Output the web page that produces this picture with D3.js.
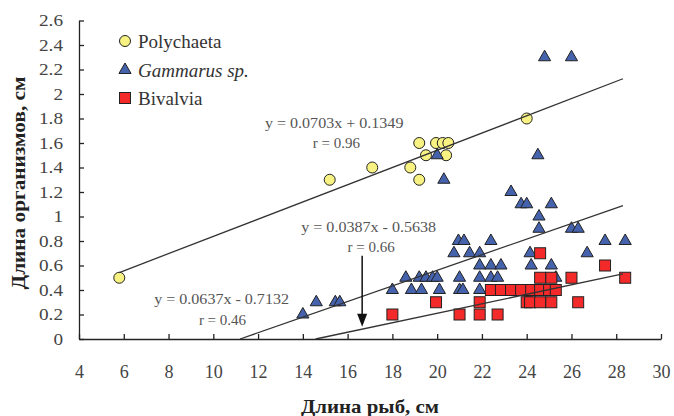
<!DOCTYPE html>
<html><head><meta charset="utf-8">
<script src="https://cdn.jsdelivr.net/npm/d3@7"></script>
<style>body{margin:0;background:#fff}svg{display:block}
svg text{font-family:"Liberation Serif","Times New Roman",Times,serif;}</style>
</head><body>
<svg id="c" width="674" height="416"></svg>
<script>
// ---- data ----
const xTicks = [4,6,8,10,12,14,16,18,20,22,24,26,28,30];
const yTicks = [0,0.2,0.4,0.6,0.8,1,1.2,1.4,1.6,1.8,2,2.2,2.4,2.6];
const seriesNames = ["Polychaeta","Gammarus sp.","Bivalvia"];

const polyX = [5.8,15.2,17.1,18.8,19.2,19.2,19.5,19.95,20.25,20.4,20.5,24.0];
const polyY = [0.5,1.3,1.4,1.4,1.3,1.6,1.5,1.6,1.6,1.5,1.6,1.8];

const gamX = [14.0,14.6,15.45,15.65,
  18.0,18.85,19.3,20.1,21.0,21.15,21.9,
  18.6,19.2,19.5,19.8,20.0,21.0,21.9,22.4,22.7,25.3,
  21.9,22.4,22.85,24.2,25.1,
  20.75,21.45,21.9,24.15,26.7,
  20.95,21.2,22.4,27.5,28.4,
  24.55,26.0,26.3,
  24.55,
  23.75,24.0,25.1,
  23.3,
  20.3,
  20.0,24.5,
  24.8,26.0];
const gamY = [0.2,0.3,0.3,0.3,
  0.4,0.4,0.4,0.4,0.4,0.4,0.4,
  0.5,0.5,0.5,0.5,0.5,0.5,0.5,0.5,0.5,0.5,
  0.6,0.6,0.6,0.6,0.6,
  0.7,0.7,0.7,0.7,0.7,
  0.8,0.8,0.8,0.8,0.8,
  0.9,0.9,0.9,
  1.0,
  1.1,1.1,1.1,
  1.2,
  1.3,
  1.5,1.5,
  2.3,2.3];

const bivX = [18.0,21.0,21.9,22.7,
  19.95,21.9,24.0,24.15,24.6,25.1,26.3,
  22.4,22.85,23.3,23.75,24.2,24.6,25.0,25.3,
  24.6,25.1,26.0,28.4,
  27.5,
  24.6];
const bivY = [0.2,0.2,0.2,0.2,
  0.3,0.3,0.3,0.3,0.3,0.3,0.3,
  0.4,0.4,0.4,0.4,0.4,0.4,0.4,0.4,
  0.5,0.5,0.5,0.5,
  0.6,
  0.7];

// regression fits (equation, r, line extent, label anchors in data units)
const fitSlope = [0.0703,0.0637,0.0387];
const fitIntercept = [0.1349,-0.7132,-0.5638];
const fitXmin = [5.8,4,4];
const fitXmax = [28.3,28.3,28.3];
const fitEq = ["y = 0.0703x + 0.1349","y = 0.0637x - 0.7132","y = 0.0387x - 0.5638"];
const fitR = ["r = 0.96","r = 0.46","r = 0.66"];
const eqLabelX = [15.4,10.37,16.94];
const eqLabelY = [1.72,0.285,0.87];
const rLabelX = [15.5,10.41,17.05];
const rLabelY = [1.56,0.115,0.71];

const arrowX = 16.65, arrowFrom = 0.68, arrowTo = 0.1;

// ---- drawing ----
const svg = d3.select("#c");
const x = d3.scaleLinear().domain([4,30]).range([79,661]);
const y = d3.scaleLinear().domain([0,2.6]).range([339,20.5]);

function widen(sel, f){ sel.each(function(){ const w=this.getComputedTextLength();
  d3.select(this).attr("textLength",w*f).attr("lengthAdjust","spacingAndGlyphs"); }); }

const gx = svg.append("g").attr("transform","translate(0,339)")
  .call(d3.axisBottom(x).tickValues(xTicks).tickFormat(d3.format("d"))
    .tickSizeInner(-5).tickSizeOuter(0).tickPadding(26));
const gy = svg.append("g").attr("transform","translate(79,0)")
  .call(d3.axisLeft(y).tickValues(yTicks).tickFormat(d=>String(+d.toFixed(1)))
    .tickSizeInner(-5).tickSizeOuter(0).tickPadding(16));
[gx,gy].forEach(g=>{
  g.attr("font-family",null);
  g.selectAll("path.domain").attr("stroke","#222").attr("stroke-width",1.3);
  g.selectAll(".tick line").attr("stroke","#222").attr("stroke-width",1.3);
  g.selectAll("text").attr("fill","#444");
});
gx.selectAll("text").attr("font-size",18);
gy.selectAll("text").attr("font-size",16).call(widen,1.2);

// axis titles
svg.append("text").attr("x",370).attr("y",413).attr("text-anchor","middle")
  .attr("font-weight","bold").attr("font-size",19).attr("fill","#222")
  .attr("textLength",138).attr("lengthAdjust","spacingAndGlyphs")
  .text("Длина рыб, см");
svg.append("text").attr("transform","translate(25,183) rotate(-90)").attr("text-anchor","middle")
  .attr("font-weight","bold").attr("font-size",18).attr("fill","#222")
  .attr("textLength",213).attr("lengthAdjust","spacingAndGlyphs")
  .text("Длина организмов, см");

const stroke = "#222";
const polyFill = "#f8f283", gamFill = "#4562ad", bivFill = "#f42a2a";
const tri = d3.symbol(d3.symbolTriangle).size(64);
const SQ = 11;

// points
svg.append("g").selectAll("circle").data(d3.range(polyX.length)).join("circle")
  .attr("cx",i=>x(polyX[i])).attr("cy",i=>y(polyY[i])).attr("r",5.5)
  .attr("fill",polyFill).attr("stroke",stroke).attr("stroke-width",1);
svg.append("g").selectAll("path").data(d3.range(gamX.length)).join("path")
  .attr("d",tri).attr("transform",i=>`translate(${x(gamX[i])},${y(gamY[i])})`)
  .attr("fill",gamFill).attr("stroke",stroke).attr("stroke-width",1);
svg.append("g").selectAll("rect").data(d3.range(bivX.length)).join("rect")
  .attr("x",i=>x(bivX[i])-SQ/2).attr("y",i=>y(bivY[i])-SQ/2).attr("width",SQ).attr("height",SQ)
  .attr("fill",bivFill).attr("stroke",stroke).attr("stroke-width",1);

// fit lines
fitSlope.forEach((a,k)=>{
  const b = fitIntercept[k];
  const x0 = Math.max(fitXmin[k], -b/a);
  const x1 = fitXmax[k];
  svg.append("line").attr("x1",x(x0)).attr("y1",y(a*x0+b)).attr("x2",x(x1)).attr("y2",y(a*x1+b))
    .attr("stroke","#333").attr("stroke-width",1.3);
  svg.append("text").attr("x",x(eqLabelX[k])).attr("y",y(eqLabelY[k])).attr("text-anchor","middle")
    .attr("font-size",15).attr("fill","#555").text(fitEq[k]).call(widen,1.07);
  svg.append("text").attr("x",x(rLabelX[k])).attr("y",y(rLabelY[k])).attr("text-anchor","middle")
    .attr("font-size",15).attr("fill","#555").text(fitR[k]);
});

// arrow
const ax = x(arrowX), ayTip = y(arrowTo);
svg.append("line").attr("x1",ax).attr("x2",ax).attr("y1",y(arrowFrom)).attr("y2",ayTip-10)
  .attr("stroke","#111").attr("stroke-width",1.5);
svg.append("path").attr("d",`M${ax-5},${ayTip-13}L${ax+5},${ayTip-13}L${ax},${ayTip}Z`).attr("fill","#111");

// legend
const lg = svg.append("g");
const legY = [41,70,98];
lg.append("circle").attr("cx",125).attr("cy",legY[0]).attr("r",5.5).attr("fill",polyFill).attr("stroke",stroke);
lg.append("path").attr("d",tri).attr("transform",`translate(125,${legY[1]})`).attr("fill",gamFill).attr("stroke",stroke);
lg.append("rect").attr("x",125-SQ/2).attr("y",legY[2]-SQ/2).attr("width",SQ).attr("height",SQ).attr("fill",bivFill).attr("stroke",stroke);
seriesNames.forEach((n,i)=>{
  lg.append("text").attr("x",138).attr("y",legY[i]+6.5).attr("font-size",19)
    .attr("fill","#333").attr("font-style",i===1?"italic":"normal").text(n);
});
</script>
</body></html>
